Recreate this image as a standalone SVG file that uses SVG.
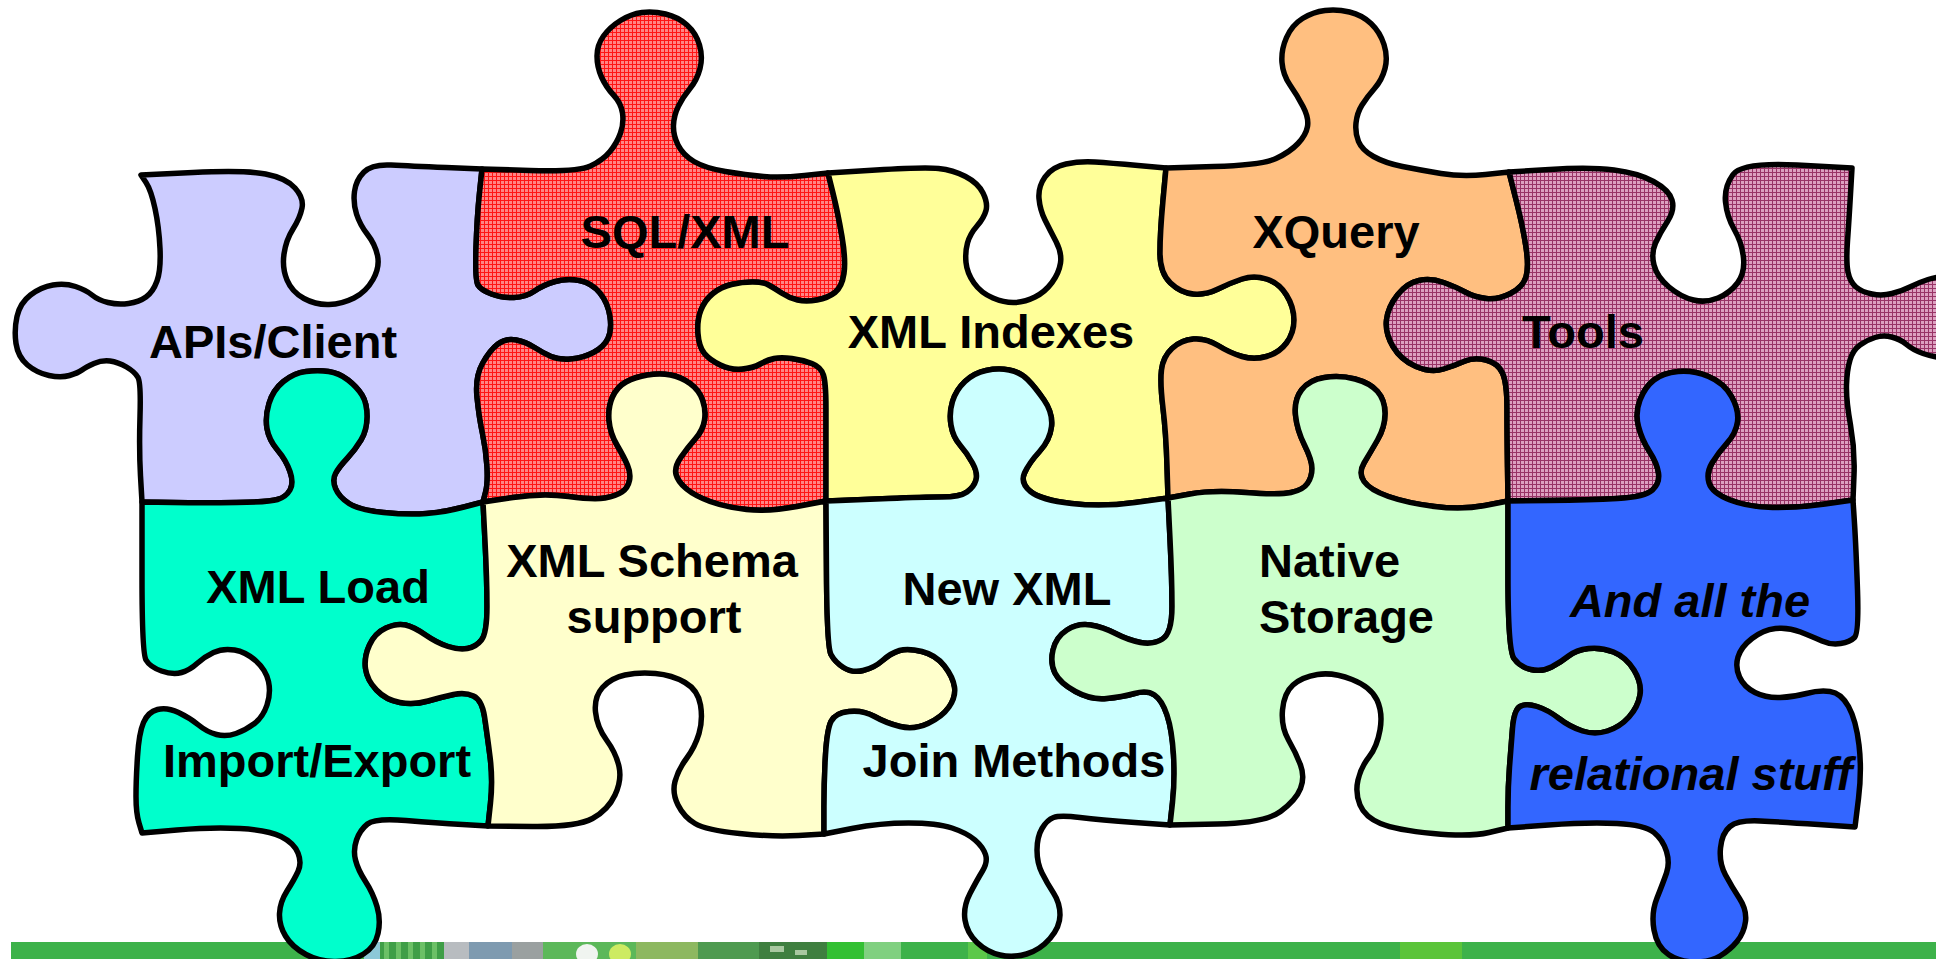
<svg xmlns="http://www.w3.org/2000/svg" width="1936" height="959" viewBox="0 0 1936 959">
  <defs>
    <pattern id="redWeave" width="4" height="4" patternUnits="userSpaceOnUse">
      <rect width="4" height="4" fill="#FF8484"/>
      <rect width="4" height="1" fill="#FF1414"/>
      <rect width="1" height="4" fill="#FF1414"/>
    </pattern>
    <pattern id="mauveWeave" width="4" height="4" patternUnits="userSpaceOnUse">
      <rect width="4" height="4" fill="#DDA0C0"/>
      <rect width="4" height="1" fill="#993366"/>
      <rect width="1" height="4" fill="#993366"/>
    </pattern>
    <style>
      .piece { stroke:#000; stroke-width:5.5; stroke-linejoin:round; stroke-linecap:round; }
      .label { font-family:"Liberation Sans", Arial, Helvetica, sans-serif; font-weight:bold; font-size:47px; fill:#000; text-anchor:middle; }
      .left { text-anchor:start; }
      .ital { font-style:italic; }
    </style>
  </defs>

  <rect width="1936" height="959" fill="#FFFFFF"/>

  <!-- footer band -->
  <g id="footer">
    <rect x="11" y="942" width="1925" height="17" fill="#3DB24A"/>
    <rect x="364" y="942" width="16" height="17" fill="#8CC8D8"/>
    <rect x="380" y="942" width="64" height="17" fill="#3F9E47"/>
    <rect x="384" y="942" width="5" height="17" fill="#6CC066"/>
    <rect x="396" y="942" width="5" height="17" fill="#6CC066"/>
    <rect x="408" y="942" width="5" height="17" fill="#6CC066"/>
    <rect x="420" y="942" width="5" height="17" fill="#6CC066"/>
    <rect x="432" y="942" width="5" height="17" fill="#6CC066"/>
    <rect x="444" y="942" width="25" height="17" fill="#B8BCC0"/>
    <rect x="469" y="942" width="43" height="17" fill="#7E9AB0"/>
    <rect x="512" y="942" width="31" height="17" fill="#9AA0A0"/>
    <rect x="543" y="942" width="93" height="17" fill="#5CB85A"/>
    <ellipse cx="587" cy="954" rx="11" ry="10" fill="#F0F4F0"/>
    <ellipse cx="620" cy="954" rx="11" ry="10" fill="#CDEB62"/>
    <rect x="636" y="942" width="62" height="17" fill="#8DB860"/>
    <rect x="698" y="942" width="61" height="17" fill="#4E9A50"/>
    <rect x="759" y="942" width="68" height="17" fill="#3F7F40"/>
    <rect x="770" y="946" width="14" height="6" fill="#A8C8A0"/>
    <rect x="795" y="950" width="12" height="5" fill="#A8C8A0"/>
    <rect x="827" y="942" width="37" height="17" fill="#33C033"/>
    <rect x="864" y="942" width="37" height="17" fill="#80D080"/>
    <rect x="968" y="942" width="19" height="17" fill="#5CC84A"/>
    <rect x="1400" y="942" width="62" height="17" fill="#5BC43A"/>
  </g>

  <!-- top row -->
  <g id="apis-client">
    <path class="piece" fill="#CCCCFF" d="M141,175 L193,172.5 Q245,170 265.5,174 Q286,178 295,188 Q304,198 302,208 Q300,218 293,229 Q286,240 284,254 Q282,268 287,280 Q292,292 304,298.5 Q316,305 329,304.5 Q342,304 354,298 Q366,292 373,279.5 Q380,267 377.5,255.5 Q375,244 367.5,234.5 Q360,225 356.5,214 Q353,203 354.5,191.5 Q356,180 364,172 Q372,164 391,165 Q410,166 446,167.5 L482,169
      L479.5,193 Q477,217 476,248.5 Q475,280 478,285 Q481,290 491.5,294 Q502,298 514,297.5 Q526,297 534.5,291 Q543,285 555,281.5 Q567,278 579.5,280.5 Q592,283 600,293 Q608,303 610,316.5 Q612,330 608,338.5 Q604,347 593.5,352.5 Q583,358 571,359 Q559,360 551,356.5 Q543,353 534.5,347.5 Q526,342 516,340 Q506,338 498,344 Q490,350 482.5,363.5 Q475,377 477,397 Q479,417 482.5,433.5 Q486,450 487,466.5 Q488,483 485.5,492.5 L483,502
      L464,507 Q445,512 426.5,513.5 Q408,515 383.5,512.5 Q359,510 349,503.5 Q339,497 335.5,488.5 Q332,480 335.5,473.5 Q339,467 347,458.5 Q355,450 361,440 Q367,430 367,416.5 Q367,403 362,395 Q357,387 348,380 Q339,373 328.5,371.5 Q318,370 306,371.5 Q294,373 283.5,381.5 Q273,390 269,403.5 Q265,417 267,428.5 Q269,440 277.5,450 Q286,460 290,471.5 Q294,483 290,490 Q286,497 277.5,499.5 Q269,502 236.5,502.5 Q204,503 173,502.5 L142,502
      L140.5,476 Q139,450 140,416.5 Q141,383 138,377.5 Q135,372 126.5,367 Q118,362 110,361 Q102,360 94,363.5 Q86,367 82,370 Q78,373 69.5,375.5 Q61,378 49,375.5 Q37,373 27.5,365 Q18,357 16,343.5 Q14,330 17,316.5 Q20,303 30.5,295 Q41,287 53,285 Q65,283 75.5,286.5 Q86,290 92,295 Q98,300 108,302.5 Q118,305 128.5,303.5 Q139,302 146,297 Q153,292 157,281 Q161,270 160,248.5 Q159,227 155,208.5 Q151,190 146,182.5 L141,175 Z"/>
    <text class="label" x="273" y="358">APIs/Client</text>
  </g>

  <g id="sql-xml">
    <path class="piece" fill="url(#redWeave)" d="M482,169 L530,170.5 Q578,172 590.5,166 Q603,160 610,151.5 Q617,143 620.5,133 Q624,123 622.5,113 Q621,103 613.5,95 Q606,87 601.5,77 Q597,67 597,56 Q597,45 603.5,36 Q610,27 620.5,20.5 Q631,14 642,12.5 Q653,11 665.5,14 Q678,17 687,25 Q696,33 699.5,45 Q703,57 700,68.5 Q697,80 690,88.5 Q683,97 678.5,106 Q674,115 673.5,125 Q673,135 678,145 Q683,155 694,161.5 Q705,168 725.5,171.5 Q746,175 763.5,176.5 Q781,178 804.5,175.5 L828,173
      L833,193 Q838,213 842,236.5 Q846,260 844,273.5 Q842,287 835,292.5 Q828,298 817,300 Q806,302 797.5,300 Q789,298 781.5,293 Q774,288 768.5,285 Q763,282 752.5,282 Q742,282 731.5,284.5 Q721,287 713,293.5 Q705,300 701,310 Q697,320 698,333.5 Q699,347 704.5,353.5 Q710,360 720.5,365 Q731,370 742,369 Q753,368 760,364 Q767,360 774,358.5 Q781,357 792,358.5 Q803,360 812,363.5 Q821,367 823.5,375 Q826,383 826,408 Q826,433 826,467 L826,501
      L797,506.5 Q768,512 746.5,509.5 Q725,507 710,501.5 Q695,496 686.5,489 Q678,482 676,474.5 Q674,467 681,457 Q688,447 695.5,438.5 Q703,430 704.5,420 Q706,410 702.5,400 Q699,390 690,383.5 Q681,377 670.5,375 Q660,373 647.5,375 Q635,377 626,382 Q617,387 612.5,397 Q608,407 609,420 Q610,433 617,445 Q624,457 627.5,465 Q631,473 629.5,480.5 Q628,488 622,492 Q616,496 605,498 Q594,500 568.5,496.5 Q543,493 513,497.5 L483,502
      L485.5,492.5 Q488,483 487,466.5 Q486,450 482.5,433.5 Q479,417 477,397 Q475,377 482.5,363.5 Q490,350 498,344 Q506,338 516,340 Q526,342 534.5,347.5 Q543,353 551,356.5 Q559,360 571,359 Q583,358 593.5,352.5 Q604,347 608,338.5 Q612,330 610,316.5 Q608,303 600,293 Q592,283 579.5,280.5 Q567,278 555,281.5 Q543,285 534.5,291 Q526,297 514,297.5 Q502,298 491.5,294 Q481,290 478,285 Q475,280 476,248.5 Q477,217 479.5,193 L482,169 Z"/>
    <text class="label" x="685" y="248">SQL/XML</text>
  </g>

  <g id="xml-indexes">
    <path class="piece" fill="#FFFF99" d="M828,173 L876,170 Q924,167 938.5,168.5 Q953,170 965.5,176.5 Q978,183 983,193 Q988,203 986,210.5 Q984,218 977,226 Q970,234 967.5,243 Q965,252 966,262.5 Q967,273 974,283 Q981,293 993,298 Q1005,303 1015,302.5 Q1025,302 1035,297 Q1045,292 1052,282.5 Q1059,273 1060.5,263 Q1062,253 1056,241.5 Q1050,230 1045,220 Q1040,210 1039,198.5 Q1038,187 1045,177 Q1052,167 1066,164 Q1080,161 1095,162 Q1110,163 1138,165.5 L1166,168
      L1163,200.5 Q1160,233 1160,253 Q1160,273 1170.5,283 Q1181,293 1193.5,294 Q1206,295 1218,289 Q1230,283 1242,279 Q1254,275 1266.5,279 Q1279,283 1286.5,295 Q1294,307 1294,320 Q1294,333 1286.5,343 Q1279,353 1266.5,356.5 Q1254,360 1242,356.5 Q1230,353 1218,345.5 Q1206,338 1193.5,339 Q1181,340 1172,348.5 Q1163,357 1161.5,370 Q1160,383 1163,408 Q1166,433 1167,465.5 L1168,498
      L1135,502.5 Q1102,507 1071.5,503.5 Q1041,500 1030.5,491.5 Q1020,483 1024.5,473 Q1029,463 1039.5,451.5 Q1050,440 1051.5,426.5 Q1053,413 1044,400 Q1035,387 1027.5,379.5 Q1020,372 1009,370 Q998,368 986,370.5 Q974,373 965,381.5 Q956,390 952.5,401.5 Q949,413 951,425 Q953,437 960,445 Q967,453 972.5,463 Q978,473 976,480 Q974,487 967,492 Q960,497 942,497 Q924,497 888.5,498.5 Q853,500 839.5,500.5 L826,501
      L826,467 Q826,433 826,408 Q826,383 823.5,375 Q821,367 812,363.5 Q803,360 792,358.5 Q781,357 774,358.5 Q767,360 760,364 Q753,368 742,369 Q731,370 720.5,365 Q710,360 704.5,353.5 Q699,347 698,333.5 Q697,320 701,310 Q705,300 713,293.5 Q721,287 731.5,284.5 Q742,282 752.5,282 Q763,282 768.5,285 Q774,288 781.5,293 Q789,298 797.5,300 Q806,302 817,300 Q828,298 835,292.5 Q842,287 844,273.5 Q846,260 842,236.5 Q838,213 833,193 L828,173 Z"/>
    <text class="label" x="991" y="348">XML Indexes</text>
  </g>

  <g id="xquery">
    <path class="piece" fill="#FFBF80" d="M1166,168 L1214,166.5 Q1262,165 1276,158.5 Q1290,152 1298,143.5 Q1306,135 1307.5,126.5 Q1309,118 1303,106.5 Q1297,95 1290,85 Q1283,75 1282,62.5 Q1281,50 1286.5,37.5 Q1292,25 1302.5,18.5 Q1313,12 1325,10.5 Q1337,9 1349.5,12 Q1362,15 1371,23.5 Q1380,32 1384,44.5 Q1388,57 1385,68.5 Q1382,80 1374.5,88.5 Q1367,97 1362,105 Q1357,113 1356,123 Q1355,133 1358.5,141.5 Q1362,150 1373.5,156.5 Q1385,163 1402.5,166.5 Q1420,170 1441,173.5 Q1462,177 1485.5,174.5 L1509,172
      L1516,199.5 Q1523,227 1526,247 Q1529,267 1526,277 Q1523,287 1510.5,293.5 Q1498,300 1486,298.5 Q1474,297 1465,292 Q1456,287 1443.5,282.5 Q1431,278 1419,280.5 Q1407,283 1397.5,295 Q1388,307 1386.5,320 Q1385,333 1393,346.5 Q1401,360 1416,366.5 Q1431,373 1443.5,369 Q1456,365 1465,361 Q1474,357 1486,360 Q1498,363 1502.5,373 Q1507,383 1507,408 Q1507,433 1507.5,467 L1508,501
      L1485,505.5 Q1462,510 1434.5,506.5 Q1407,503 1388.5,496.5 Q1370,490 1364,481.5 Q1358,473 1364,463 Q1370,453 1377.5,440 Q1385,427 1385,413.5 Q1385,400 1377.5,391.5 Q1370,383 1355,379 Q1340,375 1324.5,377.5 Q1309,380 1301.5,390 Q1294,400 1295.5,415 Q1297,430 1304.5,445 Q1312,460 1312,468.5 Q1312,477 1307.5,483.5 Q1303,490 1291,492.5 Q1279,495 1245.5,492.5 Q1212,490 1190,494 L1168,498
      L1167,465.5 Q1166,433 1163,408 Q1160,383 1161.5,370 Q1163,357 1172,348.5 Q1181,340 1193.5,339 Q1206,338 1218,345.5 Q1230,353 1242,356.5 Q1254,360 1266.5,356.5 Q1279,353 1286.5,343 Q1294,333 1294,320 Q1294,307 1286.5,295 Q1279,283 1266.5,279 Q1254,275 1242,279 Q1230,283 1218,289 Q1206,295 1193.5,294 Q1181,293 1170.5,283 Q1160,273 1160,253 Q1160,233 1163,200.5 L1166,168 Z"/>
    <text class="label" x="1336" y="248">XQuery</text>
  </g>

  <g id="tools">
    <path class="piece" fill="url(#mauveWeave)" d="M1509,172 L1549.5,169.5 Q1590,167 1614,170 Q1638,173 1653.5,181.5 Q1669,190 1672,200 Q1675,210 1667.5,221.5 Q1660,233 1655.5,243 Q1651,253 1654,265 Q1657,277 1669,287 Q1681,297 1693.5,300 Q1706,303 1718,298 Q1730,293 1737.5,283 Q1745,273 1743.5,258 Q1742,243 1734.5,230 Q1727,217 1725.5,202 Q1724,187 1733,174.5 Q1742,162 1797,165 L1852,168
      L1850.5,194 Q1849,220 1847.5,241 Q1846,262 1848,272 Q1850,282 1856,287 Q1862,292 1872,294 Q1882,296 1892,293.5 Q1902,291 1911,286.5 Q1920,282 1928,279.5 Q1936,277 1943,276.5 L1950,276 L1950,358
      L1941.5,357.5 Q1933,357 1923,353.5 Q1913,350 1906.5,344.5 Q1900,339 1891.5,337 Q1883,335 1875,337.5 Q1867,340 1860,345 Q1853,350 1850,360 Q1847,370 1846.5,385 Q1846,400 1850.5,425 Q1855,450 1854,475 L1853,500
      L1825,504 Q1797,508 1772.5,507.5 Q1748,507 1730,500 Q1712,493 1709,483 Q1706,473 1712,463 Q1718,453 1727,443 Q1736,433 1737.5,421.5 Q1739,410 1731.5,396.5 Q1724,383 1708.5,376.5 Q1693,370 1678,371.5 Q1663,373 1654,380 Q1645,387 1640,400 Q1635,413 1638.5,426.5 Q1642,440 1649.5,451.5 Q1657,463 1658.5,473 Q1660,483 1652.5,490 Q1645,497 1617.5,498.5 Q1590,500 1549,500.5 L1508,501
      L1507.5,467 Q1507,433 1507,408 Q1507,383 1502.5,373 Q1498,363 1486,360 Q1474,357 1465,361 Q1456,365 1443.5,369 Q1431,373 1416,366.5 Q1401,360 1393,346.5 Q1385,333 1386.5,320 Q1388,307 1397.5,295 Q1407,283 1419,280.5 Q1431,278 1443.5,282.5 Q1456,287 1465,292 Q1474,297 1486,298.5 Q1498,300 1510.5,293.5 Q1523,287 1526,277 Q1529,267 1526,247 Q1523,227 1516,199.5 L1509,172 Z"/>
    <text class="label" x="1583" y="348">Tools</text>
  </g>

  <!-- bottom row -->
  <g id="xml-load">
    <path class="piece" fill="#00FFCC" d="M142,502 L173,502.5 Q204,503 236.5,502.5 Q269,502 277.5,499.5 Q286,497 290,490 Q294,483 290,471.5 Q286,460 277.5,450 Q269,440 267,428.5 Q265,417 269,403.5 Q273,390 283.5,381.5 Q294,373 306,371.5 Q318,370 328.5,371.5 Q339,373 348,380 Q357,387 362,395 Q367,403 367,416.5 Q367,430 361,440 Q355,450 347,458.5 Q339,467 335.5,473.5 Q332,480 335.5,488.5 Q339,497 349,503.5 Q359,510 383.5,512.5 Q408,515 426.5,513.5 Q445,512 464,507 L483,502
      L485,541 Q487,580 487,606.5 Q487,633 481.5,640 Q476,647 467.5,648.5 Q459,650 448,646.5 Q437,643 425.5,635 Q414,627 405.5,625 Q397,623 386,628 Q375,633 369.5,645 Q364,657 365.5,668.5 Q367,680 376.5,690 Q386,700 400,702.5 Q414,705 428,701 Q442,697 453.5,694.5 Q465,692 473.5,696 Q482,700 484.5,716.5 Q487,733 490,756.5 Q493,780 490.5,803 L488,826
      L462.5,824.5 Q437,823 406,820.5 Q375,818 367.5,824 Q360,830 356.5,840 Q353,850 355.5,860 Q358,870 365.5,881.5 Q373,893 377,906.5 Q381,920 378,933.5 Q375,947 363.5,954 Q352,961 336,961.5 Q320,962 306,954.5 Q292,947 285.5,936 Q279,925 279.5,913.5 Q280,902 287,891 Q294,880 298,871.5 Q302,863 298,853 Q294,843 281,836.5 Q268,830 240,828.5 Q212,827 177,830 L142,833
      L139,823 Q136,813 136,796.5 Q136,780 137.5,756.5 Q139,733 143.5,722.5 Q148,712 157.5,709.5 Q167,707 178.5,712.5 Q190,718 198.5,725 Q207,732 216.5,734.5 Q226,737 236,733.5 Q246,730 254.5,723.5 Q263,717 267,705 Q271,693 268.5,681.5 Q266,670 256,661 Q246,652 234.5,650 Q223,648 213.5,652.5 Q204,657 197,663.5 Q190,670 181.5,672.5 Q173,675 161.5,671 Q150,667 146,660 Q142,653 142,577.5 L142,502 Z"/>
    <text class="label" x="318" y="603">XML Load</text>
    <text class="label" x="317" y="777">Import/Export</text>
  </g>

  <g id="xml-schema">
    <path class="piece" fill="#FFFFCC" d="M483,502 L513,497.5 Q543,493 568.5,496.5 Q594,500 605,498 Q616,496 622,492 Q628,488 629.5,480.5 Q631,473 627.5,465 Q624,457 617,445 Q610,433 609,420 Q608,407 612.5,397 Q617,387 626,382 Q635,377 647.5,375 Q660,373 670.5,375 Q681,377 690,383.5 Q699,390 702.5,400 Q706,410 704.5,420 Q703,430 695.5,438.5 Q688,447 681,457 Q674,467 676,474.5 Q678,482 686.5,489 Q695,496 710,501.5 Q725,507 746.5,509.5 Q768,512 797,506.5 L826,501
      L826.5,574 Q827,647 831,654.5 Q835,662 843.5,667.5 Q852,673 863,670.5 Q874,668 882.5,660.5 Q891,653 899.5,650.5 Q908,648 922,651.5 Q936,655 944.5,666 Q953,677 954.5,687 Q956,697 949,707 Q942,717 928,723.5 Q914,730 900,726.5 Q886,723 874.5,716.5 Q863,710 849,711.5 Q835,713 831,721.5 Q827,730 825.5,755 Q824,780 824,807 L824,834
      L798.5,835.5 Q773,837 739.5,833.5 Q706,830 695,823.5 Q684,817 678,805 Q672,793 675,781.5 Q678,770 686.5,758.5 Q695,747 699,733.5 Q703,720 700.5,705 Q698,690 685,682.5 Q672,675 655.5,673.5 Q639,672 625,675 Q611,678 602.5,687.5 Q594,697 595.5,712 Q597,727 606.5,740 Q616,753 619,766.5 Q622,780 615,795 Q608,810 592.5,818.5 Q577,827 532.5,826.5 L488,826
      L490.5,803 Q493,780 490,756.5 Q487,733 484.5,716.5 Q482,700 473.5,696 Q465,692 453.5,694.5 Q442,697 428,701 Q414,705 400,702.5 Q386,700 376.5,690 Q367,680 365.5,668.5 Q364,657 369.5,645 Q375,633 386,628 Q397,623 405.5,625 Q414,627 425.5,635 Q437,643 448,646.5 Q459,650 467.5,648.5 Q476,647 481.5,640 Q487,633 487,606.5 Q487,580 485,541 L483,502 Z"/>
    <text class="label" x="652" y="577">XML Schema</text>
    <text class="label" x="654" y="633">support</text>
  </g>

  <g id="new-xml-join">
    <path class="piece" fill="#CCFFFF" d="M826,501 L839.5,500.5 Q853,500 888.5,498.5 Q924,497 942,497 Q960,497 967,492 Q974,487 976,480 Q978,473 972.5,463 Q967,453 960,445 Q953,437 951,425 Q949,413 952.5,401.5 Q956,390 965,381.5 Q974,373 986,370.5 Q998,368 1009,370 Q1020,372 1027.5,379.5 Q1035,387 1044,400 Q1053,413 1051.5,426.5 Q1050,440 1039.5,451.5 Q1029,463 1024.5,473 Q1020,483 1030.5,491.5 Q1041,500 1071.5,503.5 Q1102,507 1135,502.5 L1168,498
      L1170,539 Q1172,580 1172,606.5 Q1172,633 1162.5,639 Q1153,645 1140.5,642.5 Q1128,640 1115.5,633.5 Q1103,627 1090.5,625 Q1078,623 1067,630 Q1056,637 1053,650 Q1050,663 1055,673 Q1060,683 1075.5,691.5 Q1091,700 1106.5,698.5 Q1122,697 1134.5,693.5 Q1147,690 1154.5,695 Q1162,700 1167,715 Q1172,730 1173.5,755 Q1175,780 1172.5,802.5 L1170,825
      L1135,822.5 Q1100,820 1080,817.5 Q1060,815 1053.5,817.5 Q1047,820 1042,828.5 Q1037,837 1037,850 Q1037,863 1042,873 Q1047,883 1053.5,893 Q1060,903 1060,915 Q1060,927 1050,938.5 Q1040,950 1026.5,954 Q1013,958 1000,955 Q987,952 977,942.5 Q967,933 965,920 Q963,907 970,893.5 Q977,880 982.5,871 Q988,862 985.5,854.5 Q983,847 975,840 Q967,833 952,828 Q937,823 908.5,823 Q880,823 852,828.5 L824,834
      L824,807 Q824,780 825.5,755 Q827,730 831,721.5 Q835,713 849,711.5 Q863,710 874.5,716.5 Q886,723 900,726.5 Q914,730 928,723.5 Q942,717 949,707 Q956,697 954.5,687 Q953,677 944.5,666 Q936,655 922,651.5 Q908,648 899.5,650.5 Q891,653 882.5,660.5 Q874,668 863,670.5 Q852,673 843.5,667.5 Q835,662 831,654.5 Q827,647 826.5,574 L826,501 Z"/>
    <text class="label" x="1007" y="605">New XML</text>
    <text class="label" x="1014" y="777">Join Methods</text>
  </g>

  <g id="native-storage">
    <path class="piece" fill="#CCFFCC" d="M1168,498 L1190,494 Q1212,490 1245.5,492.5 Q1279,495 1291,492.5 Q1303,490 1307.5,483.5 Q1312,477 1312,468.5 Q1312,460 1304.5,445 Q1297,430 1295.5,415 Q1294,400 1301.5,390 Q1309,380 1324.5,377.5 Q1340,375 1355,379 Q1370,383 1377.5,391.5 Q1385,400 1385,413.5 Q1385,427 1377.5,440 Q1370,453 1364,463 Q1358,473 1364,481.5 Q1370,490 1388.5,496.5 Q1407,503 1434.5,506.5 Q1462,510 1485,505.5 L1508,501
      L1508,575.5 Q1508,650 1514,658.5 Q1520,667 1531,669.5 Q1542,672 1551.5,667 Q1561,662 1568.5,656 Q1576,650 1588.5,648.5 Q1601,647 1613.5,652 Q1626,657 1634,670 Q1642,683 1640,695 Q1638,707 1629,717 Q1620,727 1607.5,731 Q1595,735 1582.5,731 Q1570,727 1559,718.5 Q1548,710 1537,706.5 Q1526,703 1520,706.5 Q1514,710 1512.5,728.5 Q1511,747 1509.5,767 Q1508,787 1508,807.5 L1508,828
      L1489,832.5 Q1470,837 1433,833.5 Q1396,830 1380.5,823.5 Q1365,817 1360,805 Q1355,793 1358,780 Q1361,767 1369,757 Q1377,747 1380,730 Q1383,713 1377,700 Q1371,687 1352,679.5 Q1333,672 1317.5,674.5 Q1302,677 1293,685 Q1284,693 1282.5,710 Q1281,727 1288.5,740 Q1296,753 1300.5,765 Q1305,777 1300.5,788.5 Q1296,800 1280.5,811.5 Q1265,823 1217.5,824 L1170,825
      L1172.5,802.5 Q1175,780 1173.5,755 Q1172,730 1167,715 Q1162,700 1154.5,695 Q1147,690 1134.5,693.5 Q1122,697 1106.5,698.5 Q1091,700 1075.5,691.5 Q1060,683 1055,673 Q1050,663 1053,650 Q1056,637 1067,630 Q1078,623 1090.5,625 Q1103,627 1115.5,633.5 Q1128,640 1140.5,642.5 Q1153,645 1162.5,639 Q1172,633 1172,606.5 Q1172,580 1170,539 L1168,498 Z"/>
    <text class="label left" x="1259" y="577">Native</text>
    <text class="label left" x="1259" y="633">Storage</text>
  </g>

  <g id="relational">
    <path class="piece" fill="#3366FF" d="M1508,501 L1549,500.5 Q1590,500 1617.5,498.5 Q1645,497 1652.5,490 Q1660,483 1658.5,473 Q1657,463 1649.5,451.5 Q1642,440 1638.5,426.5 Q1635,413 1640,400 Q1645,387 1654,380 Q1663,373 1678,371.5 Q1693,370 1708.5,376.5 Q1724,383 1731.5,396.5 Q1739,410 1737.5,421.5 Q1736,433 1727,443 Q1718,453 1712,463 Q1706,473 1709,483 Q1712,493 1730,500 Q1748,507 1772.5,507.5 Q1797,508 1825,504 L1853,500
      L1854.5,523.5 Q1856,547 1857.5,590 Q1859,633 1854.5,637.5 Q1850,642 1840.5,643.5 Q1831,645 1822,641 Q1813,637 1800.5,632 Q1788,627 1775.5,628.5 Q1763,630 1752,638.5 Q1741,647 1738,657 Q1735,667 1739.5,677 Q1744,687 1755,692.5 Q1766,698 1780,697.5 Q1794,697 1806.5,693.5 Q1819,690 1830,691.5 Q1841,693 1848.5,706.5 Q1856,720 1859,745 Q1862,770 1858.5,798.5 L1855,827
      L1818.5,824.5 Q1782,822 1760,821 Q1738,820 1730,826.5 Q1722,833 1720.5,848 Q1719,863 1725.5,875 Q1732,887 1739.5,898.5 Q1747,910 1745.5,921.5 Q1744,933 1737,941.5 Q1730,950 1720,956 Q1710,962 1695,962 Q1680,962 1668.5,954.5 Q1657,947 1654,930 Q1651,913 1657,898 Q1663,883 1666.5,873 Q1670,863 1666.5,851.5 Q1663,840 1654,832.5 Q1645,825 1617,823.5 Q1589,822 1548.5,825 L1508,828
      L1508,807.5 Q1508,787 1509.5,767 Q1511,747 1512.5,728.5 Q1514,710 1520,706.5 Q1526,703 1537,706.5 Q1548,710 1559,718.5 Q1570,727 1582.5,731 Q1595,735 1607.5,731 Q1620,727 1629,717 Q1638,707 1640,695 Q1642,683 1634,670 Q1626,657 1613.5,652 Q1601,647 1588.5,648.5 Q1576,650 1568.5,656 Q1561,662 1551.5,667 Q1542,672 1531,669.5 Q1520,667 1514,658.5 Q1508,650 1508,575.5 L1508,501 Z"/>
    <text class="label ital" x="1690" y="617">And all the</text>
    <text class="label ital" x="1691" y="790">relational stuff</text>
  </g>
</svg>
